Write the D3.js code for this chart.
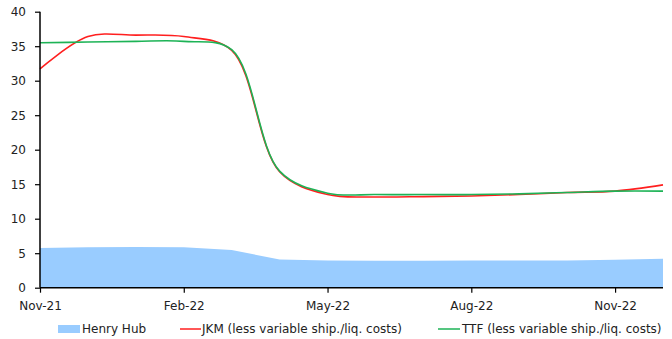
<!DOCTYPE html>
<html>
<head>
<meta charset="utf-8">
<script src="https://cdn.jsdelivr.net/npm/d3@7"></script>
<style>
  html, body { margin: 0; padding: 0; background: #fff; }
  svg { display: block; font-family: "DejaVu Sans", sans-serif; }
</style>
</head>
<body>
<svg id="chart" width="672" height="339"></svg>
<script>
// Monthly gas prices, Nov-21 to Dec-22
const months = ["Nov-21","Dec-21","Jan-22","Feb-22","Mar-22","Apr-22","May-22",
                "Jun-22","Jul-22","Aug-22","Sep-22","Oct-22","Nov-22","Dec-22"];
const henryHub = [5.75, 5.85, 5.9, 5.85, 5.45, 4.1, 3.95, 3.9, 3.9, 3.95, 3.95, 3.95, 4.05, 4.2];
const jkm      = [31.7, 36.4, 36.6, 36.4, 34.4, 16.8, 13.5, 13.15, 13.2, 13.3, 13.5, 13.8, 14.0, 14.9];
const ttf      = [35.5, 35.6, 35.7, 35.7, 34.5, 16.9, 13.7, 13.5, 13.5, 13.5, 13.6, 13.8, 14.0, 14.0];
const xTickLabels = ["Nov-21", "Feb-22", "May-22", "Aug-22", "Nov-22"];
const yTicks = [0, 5, 10, 15, 20, 25, 30, 35, 40];
const legendLabels = ["Henry Hub", "JKM (less variable ship./liq. costs)", "TTF (less variable ship./liq. costs)"];

const svg = d3.select("#chart");
const plotLeft = 40, plotRight = 663, plotTop = 11.7, plotBottom = 287.7;
const fontSize = "12px";

const x = d3.scalePoint().domain(months).range([plotLeft, plotRight]).padding(0);
const y = d3.scaleLinear().domain([0, 40]).range([plotBottom, plotTop]);

// Henry Hub as a filled area
const area = d3.area()
  .x((d, i) => x(months[i]))
  .y0(y(0))
  .y1(d => y(d));
svg.append("path").datum(henryHub)
  .attr("d", area)
  .attr("fill", "#99CCFF");

// Smoothed price lines
const line = d3.line()
  .x((d, i) => x(months[i]))
  .y(d => y(d))
  .curve(d3.curveCatmullRom.alpha(0.5));

svg.append("path").datum(jkm)
  .attr("d", line)
  .attr("fill", "none")
  .attr("stroke", "#FF1F1F")
  .attr("stroke-width", 1.6);

svg.append("path").datum(ttf)
  .attr("d", line)
  .attr("fill", "none")
  .attr("stroke", "#1DB356")
  .attr("stroke-width", 1.6);

// Axes
const yAxis = d3.axisLeft(y).tickValues(yTicks).tickSize(5).tickPadding(9).tickFormat(d3.format("d"));
const yg = svg.append("g").attr("transform", `translate(${plotLeft},0)`).call(yAxis);

const xAxis = d3.axisBottom(x).tickValues(xTickLabels).tickSize(5).tickPadding(8.5);
const xg = svg.append("g").attr("transform", `translate(0,${plotBottom})`).call(xAxis);

[yg, xg].forEach(g => {
  g.select(".domain").attr("stroke", "#000").attr("stroke-width", 1.5);
  g.selectAll(".tick line").attr("stroke", "#000").attr("stroke-width", 1.2);
  g.selectAll(".tick text")
    .attr("fill", "#222")
    .style("font-family", "'DejaVu Sans', sans-serif")
    .style("font-size", fontSize);
});
xg.select(".domain").attr("d", `M${plotLeft},0H${plotRight}`);
yg.select(".domain").attr("d", `M0,${plotTop}V${plotBottom}`);

// Legend
const legendY = 329;
const lg = svg.append("g").style("font-size", fontSize).attr("fill", "#222");
lg.append("rect").attr("x", 58).attr("y", legendY - 4).attr("width", 22).attr("height", 8).attr("fill", "#99CCFF");
lg.append("text").attr("x", 82).attr("y", legendY).attr("dy", "0.35em").text(legendLabels[0]);
lg.append("line").attr("x1", 180).attr("x2", 201).attr("y1", legendY).attr("y2", legendY)
  .attr("stroke", "#FF1F1F").attr("stroke-width", 1.5);
lg.append("text").attr("x", 202).attr("y", legendY).attr("dy", "0.35em").text(legendLabels[1]);
lg.append("line").attr("x1", 438).attr("x2", 460).attr("y1", legendY).attr("y2", legendY)
  .attr("stroke", "#1DB356").attr("stroke-width", 1.5);
lg.append("text").attr("x", 462).attr("y", legendY).attr("dy", "0.35em").text(legendLabels[2]);
</script>
</body>
</html>
